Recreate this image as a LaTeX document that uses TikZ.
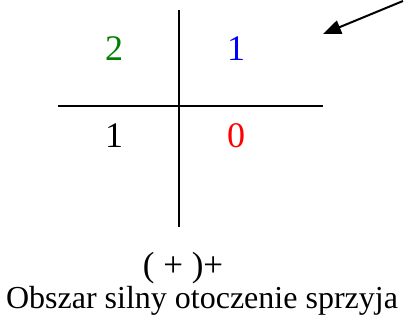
\documentclass[tikz,border=0pt]{standalone}
\usepackage{fontspec}
\setmainfont{Liberation Serif}
\usepackage{xcolor}
\usepackage{tikz}
\usetikzlibrary{arrows.meta, positioning}
\definecolor{ink}{HTML}{000000}
\definecolor{scoregreen}{HTML}{008000}
\definecolor{scoreblue}{HTML}{0000FF}
\definecolor{scorered}{HTML}{FF0000}
\tikzstyle{axis} = [line width=2pt, color=ink]
\tikzstyle{score} = [anchor=base, inner sep=0pt, font=\fontsize{36}{42}\selectfont]
\tikzstyle{caption} = [anchor=base, inner sep=0pt, font=\fontsize{32}{38}\selectfont, text=ink]
\tikzstyle{pointer} = [line width=2pt, -{Triangle[length=18pt, width=14pt]}, color=ink]

\begin{document}
\begin{tikzpicture}[x=1pt, y=-1pt]
\useasboundingbox (0,0) rectangle (404,321);

\coordinate (vtop) at (179,10);
\coordinate (vbot) at (179,227);
\coordinate (hleft) at (58,106);
\coordinate (hright) at (323,106);
\coordinate (tail) at (403,1);
\coordinate (tip) at (323,34);

\node (tl) [score, text=scoregreen] at (114,61) {2};
\node (tr) [score, text=scoreblue] at (236,61) {1};
\node (bl) [score, text=ink] at (114,147) {1};
\node (br) [score, text=scorered] at (236,147) {0};

\node (sign) [caption, font=\fontsize{35}{40}\selectfont] at (183,276) {( + )+};
\node (label) [caption] at (202,308) {Obszar silny otoczenie sprzyja};

\draw[axis] (vtop) -- (vbot);
\draw[axis] (hleft) -- (hright);
\draw[pointer] (tail) -- (tip);

\end{tikzpicture}
\end{document}
